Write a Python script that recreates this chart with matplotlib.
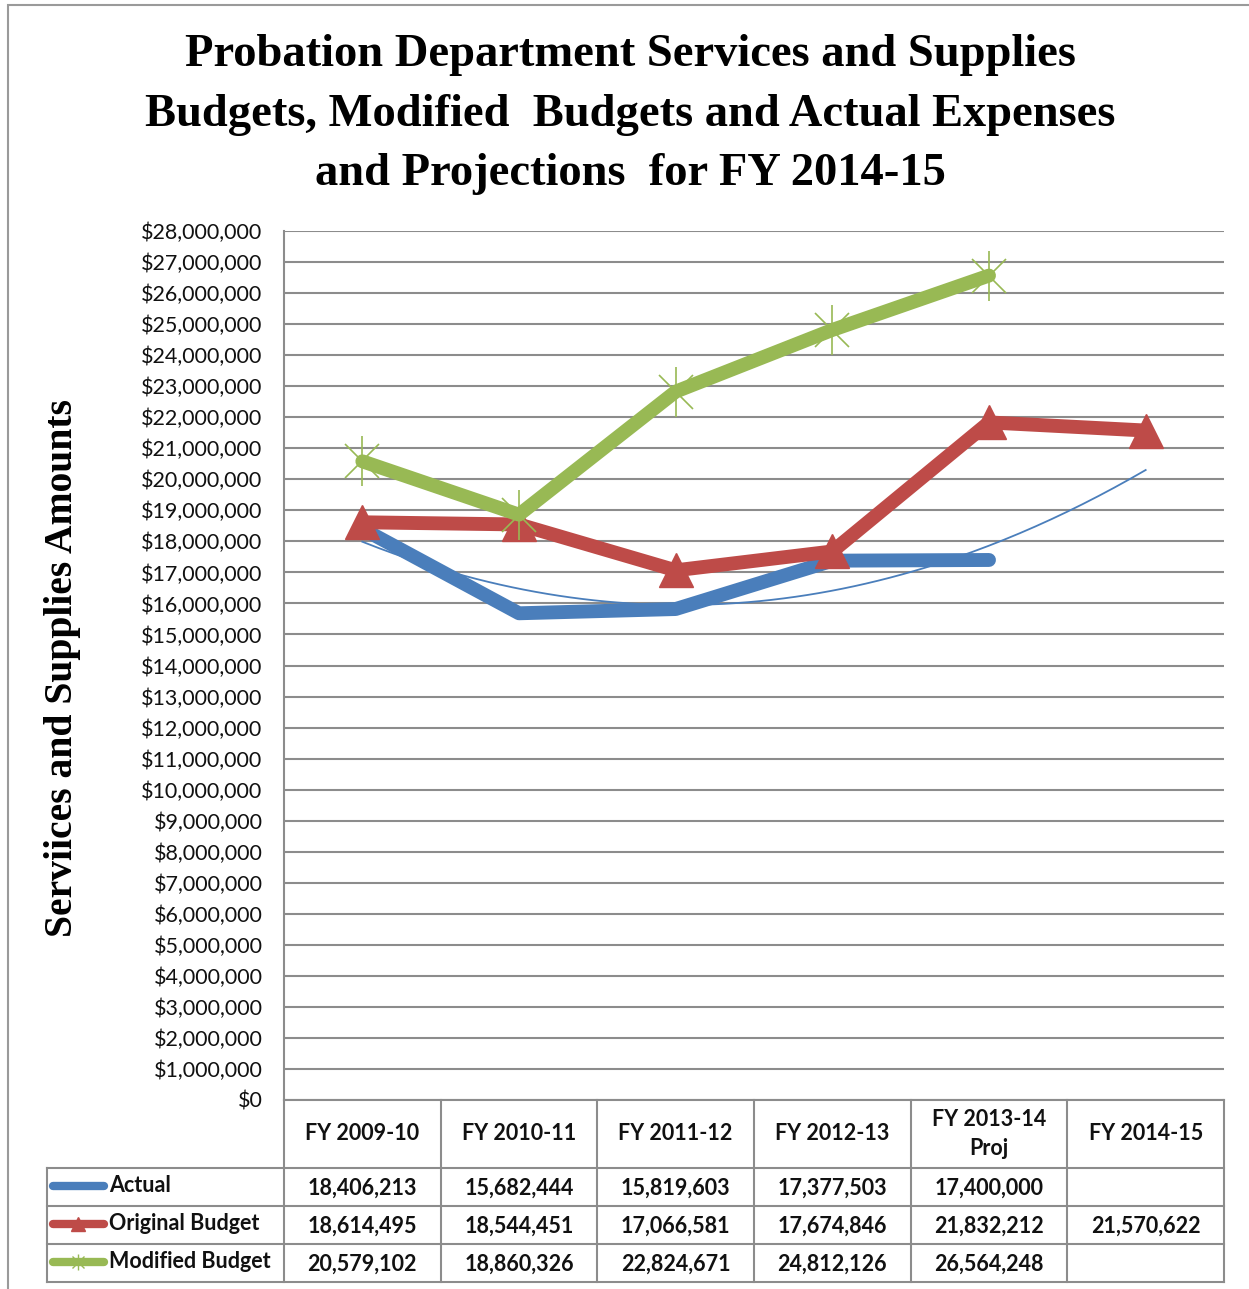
import numpy as np
import matplotlib
matplotlib.use("Agg")
import matplotlib.pyplot as plt
from matplotlib.patches import Rectangle

# ---- data ----
years = ["FY 2009-10", "FY 2010-11", "FY 2011-12", "FY 2012-13",
         "FY 2013-14\nProj", "FY 2014-15"]
actual = [18406213, 15682444, 15819603, 17377503, 17400000, None]
original_budget = [18614495, 18544451, 17066581, 17674846, 21832212, 21570622]
modified_budget = [20579102, 18860326, 22824671, 24812126, 26564248, None]
series_names = ["Actual", "Original Budget", "Modified Budget"]
y_ticks = list(range(0, 28000001, 1000000))

BLUE = "#4A7EBB"
RED = "#BE4B48"
GREEN = "#98B954"
GRID = "#8C8C8C"

W, H = 1249, 1289
fig = plt.figure(figsize=(W / 100, H / 100), dpi=100)


def fx(px):
    return px / W


def fy(py):
    return 1 - py / H


# outer chart border
fig.patches.append(Rectangle((fx(8), fy(1295)), fx(1260) - fx(8), fy(5) - fy(1295),
                             transform=fig.transFigure, fill=False,
                             edgecolor="#9A9A9A", lw=1.5))

PL, PR, PT, PB = 284, 1224, 231, 1100
ax = fig.add_axes([fx(PL), fy(PB), (PR - PL) / W, (PB - PT) / H])

n = len(years)
x = np.arange(1, n + 1)


def to_arr(vals):
    return np.array([np.nan if v is None else v for v in vals], dtype=float)


a = to_arr(actual)
o = to_arr(original_budget)
m = to_arr(modified_budget)

ax.plot(x, a, color=BLUE, lw=10, solid_capstyle="round", solid_joinstyle="round", zorder=3)
ax.plot(x, o, color=RED, lw=10, solid_capstyle="round", solid_joinstyle="miter",
        marker="^", ms=24, mec=RED, mfc=RED, zorder=4)
ax.plot(x, m, color=GREEN, lw=10, solid_capstyle="round", solid_joinstyle="round", zorder=5)
ax.plot(x, m, ls="none", marker="x", ms=25, mew=1.2, color=GREEN, zorder=5)
ax.plot(x, m, ls="none", marker="|", ms=36, mew=1.2, color=GREEN, zorder=5)

# polynomial (order 2) trendline of the actual expenses, forecast one period ahead
ok = ~np.isnan(a)
coef = np.polyfit(x[ok], a[ok], 2)
xt = np.linspace(1, n, 200)
ax.plot(xt, np.polyval(coef, xt), color=BLUE, lw=1.3, zorder=6)

ax.set_xlim(0.5, n + 0.5)
ax.set_ylim(0, 28000000)
ax.set_yticks(y_ticks)
ax.set_yticklabels(["${:,.0f}".format(v) for v in y_ticks],
                   fontname="Lato", fontsize=15.5, color="#111111")
ax.tick_params(axis="y", length=0, pad=15.5)
ax.set_xticks([])
ax.grid(axis="y", color=GRID, lw=1.5)
ax.set_axisbelow(True)
for s in ["top", "right", "bottom"]:
    ax.spines[s].set_visible(False)
ax.spines["left"].set_color(GRID)
ax.spines["left"].set_linewidth(1.5)

# titles
title_lines = ["Probation Department Services and Supplies",
               "Budgets, Modified  Budgets and Actual Expenses",
               "and Projections  for FY 2014-15"]
for i, line in enumerate(title_lines):
    fig.text(fx(630), fy(55 + 59.5 * i), line, ha="center", va="center",
             fontname="Liberation Serif", fontweight="bold", fontsize=33.5)

fig.text(fx(63), fy(668), "Serviices and Supplies Amounts", rotation=90,
         ha="center", va="center", fontname="Liberation Serif",
         fontweight="bold", fontsize=28.5)

# ---- data table below the plot ----
TL = 47
TB = 1282
colw = (PR - PL) / n
tax = fig.add_axes([fx(TL), fy(TB), (PR - TL) / W, (TB - PB) / H])
tax.set_xlim(0.5 - (PL - TL) / colw, n + 0.5)
tax.set_ylim(TB, PB)
tax.axis("off")

row_edges = [1100, 1168, 1206, 1244, 1282]
xl = 0.5 - (PL - TL) / colw
lc = "#8C8C8C"
# horizontal rules
tax.plot([0.5, n + 0.5], [row_edges[0]] * 2, color=lc, lw=1.5, clip_on=False)
for ry in row_edges[1:]:
    tax.plot([xl, n + 0.5], [ry, ry], color=lc, lw=1.5, clip_on=False)
# vertical rules
for k in range(n + 1):
    tax.plot([0.5 + k, 0.5 + k], [row_edges[0], row_edges[-1]], color=lc, lw=1.5, clip_on=False)
tax.plot([xl, xl], [row_edges[1], row_edges[-1]], color=lc, lw=1.5, clip_on=False)

tfont = dict(fontname="Lato", fontweight="bold", fontsize=15.5, color="#111111")
for i, yr in enumerate(years):
    tax.text(i + 1, (row_edges[0] + row_edges[1]) / 2, yr, ha="center", va="center",
             linespacing=1.45, **tfont)

rows = [a, o, m]
for r, vals in enumerate(rows):
    yc = (row_edges[r + 1] + row_edges[r + 2]) / 2 + 1
    for i, v in enumerate(vals):
        if not np.isnan(v):
            tax.text(i + 1, yc, "{:,.0f}".format(v), ha="center", va="center", **tfont)
    tax.text(xl + (109 - TL) / colw, yc - 2, series_names[r], ha="left", va="center", **tfont)


# legend keys inside the table
def key_x(px):
    return xl + (px - TL) / colw


ky = [(row_edges[k] + row_edges[k + 1]) / 2 - 1 for k in range(1, 4)]
tax.plot([key_x(53), key_x(104)], [ky[0]] * 2, color=BLUE, lw=6, solid_capstyle="round", clip_on=False)
tax.plot([key_x(53), key_x(104)], [ky[1]] * 2, color=RED, lw=6, solid_capstyle="round", clip_on=False)
tax.plot([key_x(78)], [ky[1]], marker="^", ms=10, color=RED, clip_on=False)
tax.plot([key_x(53), key_x(104)], [ky[2]] * 2, color=GREEN, lw=6, solid_capstyle="round", clip_on=False)
tax.plot([key_x(78)], [ky[2]], marker="x", ms=9, mew=1, color=GREEN, clip_on=False)
tax.plot([key_x(78)], [ky[2]], marker="|", ms=12, mew=1, color=GREEN, clip_on=False)

fig.savefig("out.png", dpi=100)
